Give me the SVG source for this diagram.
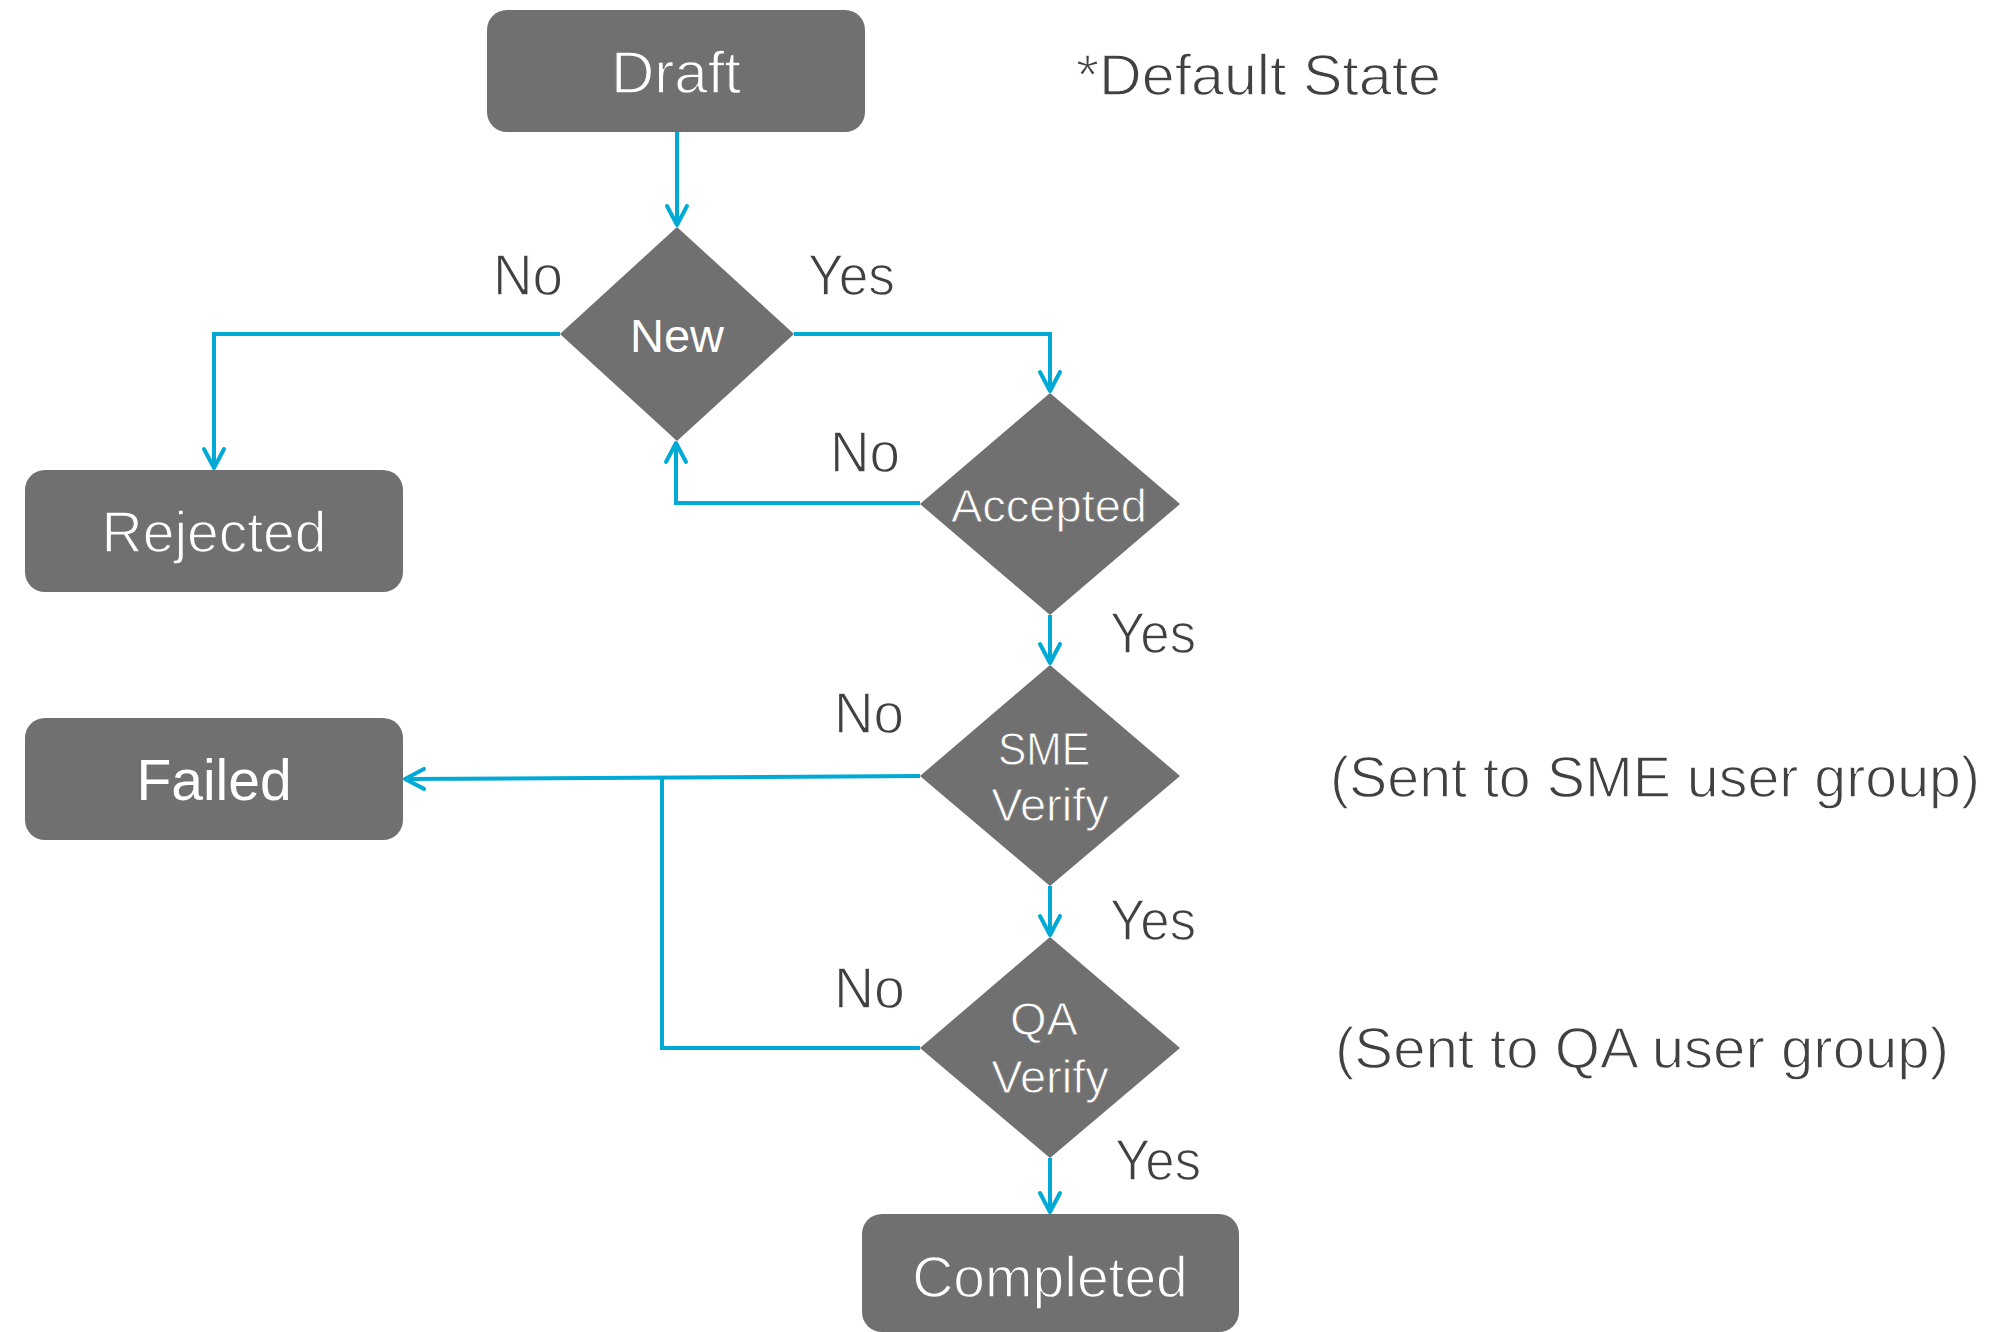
<svg xmlns="http://www.w3.org/2000/svg" width="1991" height="1332" viewBox="0 0 1991 1332">
<style>
.box{fill:#707070;}
.nt{font-family:"Liberation Sans",Arial,sans-serif;fill:#ffffff;text-anchor:middle;stroke:#707070;stroke-width:1.3;}
.dt{font-family:"Liberation Sans",Arial,sans-serif;fill:#ffffff;text-anchor:middle;stroke:#707070;stroke-width:0.9;}
.nb{font-family:"Liberation Sans",Arial,sans-serif;fill:#ffffff;text-anchor:middle;}
.lb{font-family:"Liberation Sans",Arial,sans-serif;fill:#414141;font-size:58px;stroke:#ffffff;stroke-width:1.3;}
.cn{fill:none;stroke:#00AAD4;stroke-width:4;stroke-linejoin:miter;}
</style>
<defs>
<marker id="ah" markerUnits="userSpaceOnUse" markerWidth="40" markerHeight="40" viewBox="-25 -20 30 40" refX="0" refY="0" orient="auto" overflow="visible">
<path d="M-19,-10 L0,0 L-19,10" fill="none" stroke="#00AAD4" stroke-width="4" stroke-linecap="round" stroke-linejoin="round"/>
</marker>
</defs>
<rect width="1991" height="1332" fill="#ffffff"/>
<g id="connectors">
<path class="cn" d="M677,132 V225" marker-end="url(#ah)"/>
<path class="cn" d="M560,334 H214 V468" marker-end="url(#ah)"/>
<path class="cn" d="M794,334 H1050 V391" marker-end="url(#ah)"/>
<path class="cn" d="M920,503 H676 V443" marker-end="url(#ah)"/>
<path class="cn" d="M1050,615 V663" marker-end="url(#ah)"/>
<path class="cn" d="M920,776 L405,779" marker-end="url(#ah)"/>
<path class="cn" d="M920,1048 H662 V778"/>
<path class="cn" d="M1050,886 V935" marker-end="url(#ah)"/>
<path class="cn" d="M1050,1158 V1212" marker-end="url(#ah)"/>
</g>
<g id="draft">
<rect class="box" x="487" y="10" width="378" height="122" rx="20"/>
<text class="nt" x="676" y="93" font-size="60">Draft</text>
</g>
<g id="new">
<polygon class="box" points="677,227 794,334 677,441 560,334"/>
<text class="nb" x="677" y="352" font-size="47">New</text>
</g>
<g id="accepted">
<polygon class="box" points="1050,393 1180,504 1050,615 920,504"/>
<text class="dt" x="1049" y="522" font-size="47">Accepted</text>
</g>
<g id="rejected">
<rect class="box" x="25" y="470" width="378" height="122" rx="20"/>
<text class="nt" x="214" y="552" font-size="57">Rejected</text>
</g>
<g id="sme">
<polygon class="box" points="1050,665 1180,776 1050,886 920,776"/>
<text class="dt" x="1044" y="765" font-size="47" textLength="92" lengthAdjust="spacingAndGlyphs">SME</text>
<text class="dt" x="1050" y="821" font-size="47">Verify</text>
</g>
<g id="failed">
<rect class="box" x="25" y="718" width="378" height="122" rx="20"/>
<text class="nb" x="214" y="800" font-size="57">Failed</text>
</g>
<g id="qa">
<polygon class="box" points="1050,937 1180,1048 1050,1158 920,1048"/>
<text class="dt" x="1044" y="1035" font-size="47">QA</text>
<text class="dt" x="1050" y="1093" font-size="47">Verify</text>
</g>
<g id="completed">
<rect class="box" x="862" y="1214" width="377" height="118" rx="20"/>
<text class="nt" x="1050" y="1297" font-size="57">Completed</text>
</g>
<g id="labels">
<text class="lb" x="493" y="295" textLength="70" lengthAdjust="spacingAndGlyphs">No</text>
<text class="lb" x="808" y="295" textLength="87" lengthAdjust="spacingAndGlyphs">Yes</text>
<text class="lb" x="830" y="472" textLength="70" lengthAdjust="spacingAndGlyphs">No</text>
<text class="lb" x="1110" y="653" textLength="86" lengthAdjust="spacingAndGlyphs">Yes</text>
<text class="lb" x="834" y="733" textLength="70" lengthAdjust="spacingAndGlyphs">No</text>
<text class="lb" x="1110" y="940" textLength="86" lengthAdjust="spacingAndGlyphs">Yes</text>
<text class="lb" x="834" y="1008" textLength="71" lengthAdjust="spacingAndGlyphs">No</text>
<text class="lb" x="1115" y="1180" textLength="86" lengthAdjust="spacingAndGlyphs">Yes</text>
<text class="lb" x="1076" y="95" font-size="59px" textLength="365" lengthAdjust="spacingAndGlyphs">*Default State</text>
<text class="lb" x="1330" y="797" font-size="57px" textLength="650" lengthAdjust="spacingAndGlyphs">(Sent to SME user group)</text>
<text class="lb" x="1335" y="1068" font-size="57px" textLength="614" lengthAdjust="spacingAndGlyphs">(Sent to QA user group)</text>
</g>
</svg>
